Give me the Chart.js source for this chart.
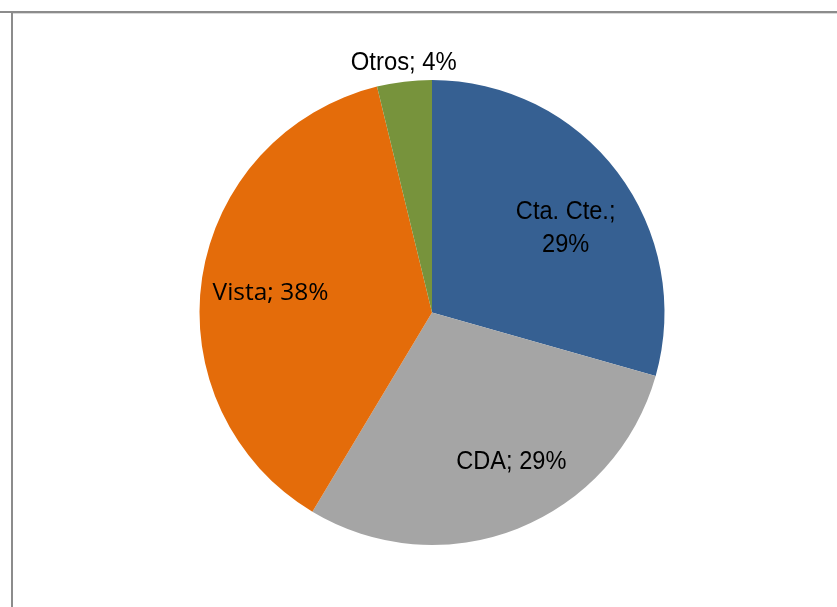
<!DOCTYPE html>
<html>
<head>
<meta charset="utf-8">
<script src="https://cdn.jsdelivr.net/npm/chart.js@4.4.1/dist/chart.umd.min.js"></script>
<style>
html,body{margin:0;padding:0;background:#fff;}
#wrap{position:relative;width:837px;height:607px;}
</style>
</head>
<body>
<div id="wrap"><canvas id="c" width="837" height="607"></canvas></div>
<script>
const categories = ["Cta. Cte.", "CDA", "Vista", "Otros"];
const shares = [29.4, 29.2, 37.6, 3.8];
const colors = ["#366092", "#A5A5A5", "#E46C0A", "#77933C"];

// label placement style: radial fraction of radius, angle offset (deg), font, horizontal squeeze
const labelStyle = [
  {f:0.68, da:4.8, font:"26.5px 'Liberation Sans', Arial, sans-serif", sx:0.89, lines:2},
  {f:0.727, da:-6.4, font:"26.5px 'Liberation Sans', Arial, sans-serif", sx:0.89, lines:1},
  {f:0.70, da:-1.6, font:"24.5px 'Open Sans', sans-serif", sx:1, lines:1},
  {f:1.082, da:0.4, font:"26.5px 'Liberation Sans', Arial, sans-serif", sx:0.9, lines:1}
];

const frame = {
  id:'frame',
  beforeDraw(chart){
    const ctx = chart.ctx;
    ctx.save();
    ctx.fillStyle = '#fff';
    ctx.fillRect(0,0,chart.width,chart.height);
    ctx.fillStyle = '#8c8c8c';
    ctx.fillRect(0,11,chart.width,2);
    ctx.fillRect(11,11,2,chart.height-11);
    ctx.fillStyle = '#d9d9d9';
    ctx.fillRect(13,13,chart.width-13,1);
    ctx.restore();
  }
};

const labels = {
  id:'sliceLabels',
  afterDatasetsDraw(chart){
    const ctx = chart.ctx;
    const meta = chart.getDatasetMeta(0);
    const data = chart.data.datasets[0].data;
    const total = data.reduce((a,b)=>a+b,0);
    meta.data.forEach((arc,i)=>{
      const s = labelStyle[i];
      const mid = (arc.startAngle+arc.endAngle)/2 + s.da*Math.PI/180;
      const r = arc.outerRadius*s.f;
      const x = arc.x + Math.cos(mid)*r;
      const y = arc.y + Math.sin(mid)*r;
      const pct = Math.round(data[i]/total*100) + '%';
      ctx.save();
      ctx.fillStyle = '#000';
      ctx.textAlign = 'center';
      ctx.textBaseline = 'middle';
      ctx.font = s.font;
      ctx.translate(x, y);
      ctx.scale(s.sx, 1);
      if (s.lines === 2) {
        ctx.fillText(chart.data.labels[i] + ';', 0, -16.5);
        ctx.fillText(pct, 0, 16.5);
      } else {
        ctx.fillText(chart.data.labels[i] + '; ' + pct, 0, 0);
      }
      ctx.restore();
    });
  }
};

new Chart(document.getElementById('c'), {
  type:'pie',
  data:{
    labels:categories,
    datasets:[{data:shares, backgroundColor:colors, borderWidth:0}]
  },
  options:{
    responsive:false,
    animation:false,
    layout:{padding:{top:80,bottom:62,left:199.5,right:172.5}},
    plugins:{legend:{display:false}, tooltip:{enabled:false}}
  },
  plugins:[frame, labels]
});
</script>
</body>
</html>
